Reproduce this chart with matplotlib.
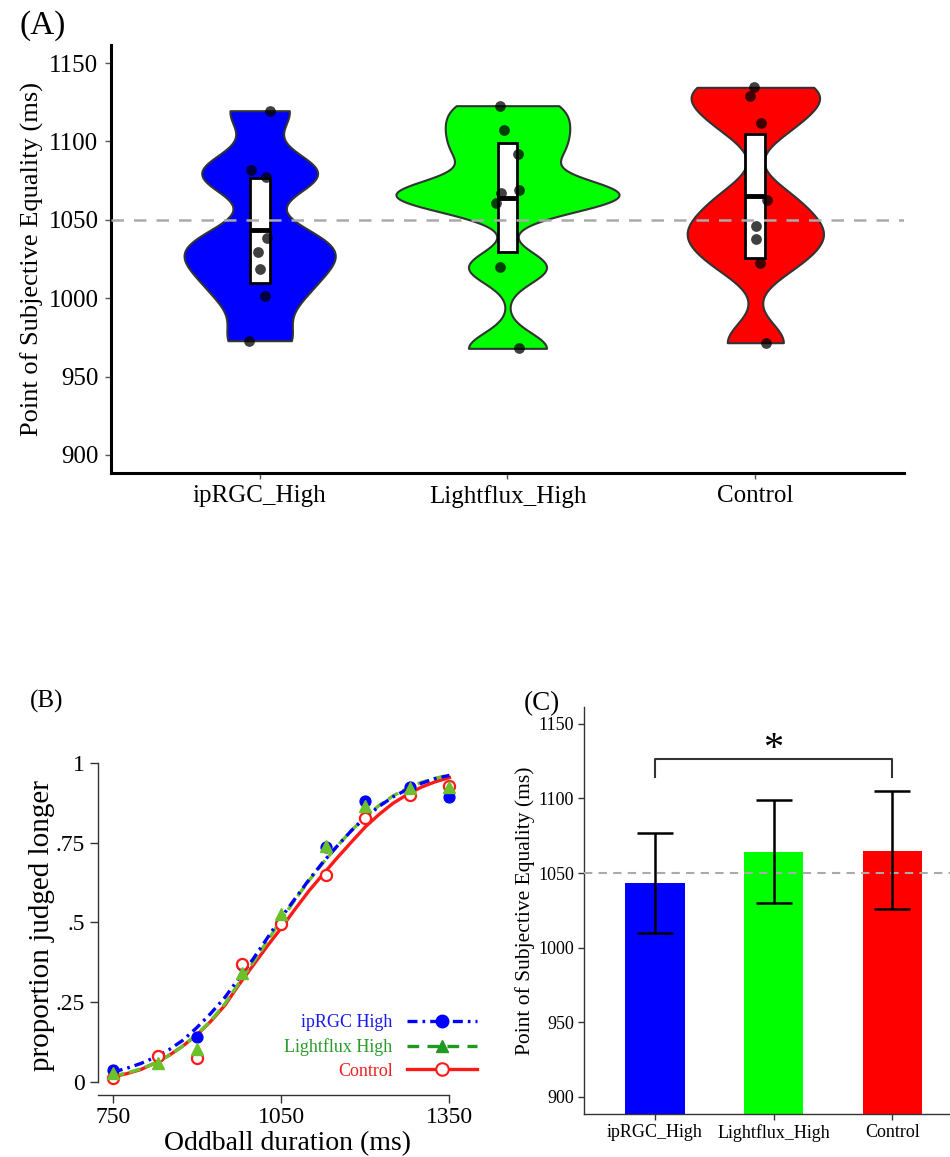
import numpy as np
import matplotlib
matplotlib.use('Agg')
import matplotlib.pyplot as plt
from matplotlib.lines import Line2D

plt.rcParams['font.family'] = ['Liberation Serif', 'DejaVu Serif']

# ---- data ----
groups = ['ipRGC_High', 'Lightflux_High', 'Control']
colors = ['#0000ff', '#00ff00', '#ff0000']

# individual PSE values (panel A points)
pse_ipRGC = [1119.6, 1081.6, 1077.5, 1038.4, 1029.7, 1018.4, 1001.4, 972.9]
pse_light = [1122.8, 1107.5, 1091.8, 1068.8, 1066.9, 1060.7, 1019.7, 968.0]
pse_control = [1134.5, 1128.7, 1111.5, 1062.9, 1046.0, 1037.6, 1022.3, 971.6]
# horizontal jitter of the points (category units)
jit_ipRGC = [0.040, -0.033, 0.027, 0.031, -0.005, 0.001, 0.021, -0.041]
jit_light = [-0.029, -0.016, 0.044, 0.047, -0.025, -0.045, -0.029, 0.048]
jit_control = [-0.004, -0.021, 0.023, 0.047, 0.004, 0.001, 0.017, 0.045]

# group mean and interval (box in A, bars in C)
pse_mean = [1043.3, 1063.9, 1065.0]
pse_lo = [1009.9, 1029.6, 1025.8]
pse_hi = [1076.5, 1098.7, 1105.0]

# panel B: observed proportions
dur_levels = [750, 830, 900, 980, 1050, 1130, 1200, 1280, 1350]
p_ipRGC = [0.035, 0.079, 0.141, 0.366, 0.497, 0.738, 0.883, 0.924, 0.893]
p_light = [0.026, 0.058, 0.103, 0.340, 0.526, 0.741, 0.866, 0.921, 0.925]
p_control = [0.010, 0.079, 0.073, 0.370, 0.494, 0.649, 0.827, 0.900, 0.929]

# panel B: fitted psychometric curves
fit_x = [750, 775, 800, 825, 850, 875, 900, 925, 950, 975, 1000, 1025, 1050,
         1075, 1100, 1125, 1150, 1175, 1200, 1225, 1250, 1275, 1300, 1325, 1350]
fit_ipRGC = [0.030, 0.042, 0.057, 0.076, 0.100, 0.130, 0.170, 0.215, 0.265, 0.325,
             0.385, 0.450, 0.515, 0.575, 0.635, 0.690, 0.740, 0.788, 0.830, 0.865,
             0.895, 0.918, 0.937, 0.952, 0.962]
fit_light = [0.018, 0.027, 0.040, 0.058, 0.082, 0.112, 0.148, 0.192, 0.245, 0.310,
             0.375, 0.440, 0.508, 0.572, 0.632, 0.688, 0.740, 0.788, 0.832, 0.868,
             0.898, 0.921, 0.940, 0.953, 0.963]
fit_control = [0.015, 0.025, 0.038, 0.058, 0.082, 0.112, 0.147, 0.190, 0.240, 0.305,
               0.365, 0.425, 0.482, 0.542, 0.600, 0.652, 0.703, 0.752, 0.800, 0.840,
               0.875, 0.902, 0.925, 0.942, 0.955]

fig = plt.figure(figsize=(9.5, 11.57), dpi=100)
pos = [1, 2, 3]

# ================= (A) violins =================
axA = fig.add_axes([0.1168, 0.5912, 0.8348, 0.3699])
# one call per group so each gets its own kernel width
for vals, p, w, bw, c in zip([pse_ipRGC, pse_light, pse_control], pos,
                             [0.61, 0.90, 0.55], [0.27, 0.20, 0.22], colors):
    vp = axA.violinplot([vals], positions=[p], widths=[w], showextrema=False,
                        bw_method=bw, points=400)
    body = vp['bodies'][0]
    body.set_facecolor(c)
    body.set_edgecolor('#333333')
    body.set_linewidth(1.5)
    body.set_alpha(1)
    body.set_zorder(2)

axA.bar(pos, np.subtract(pse_hi, pse_lo), bottom=pse_lo, width=0.08,
        color='white', edgecolor='black', linewidth=2, zorder=3)
axA.hlines(pse_mean, np.subtract(pos, 0.04), np.add(pos, 0.04),
           color='black', lw=3.5, zorder=4)
axA.axhline(1050, color='#aaaaaa', lw=1.8, ls=(0, (5, 4)), zorder=4.5)

for i, (vals, jit) in enumerate([(pse_ipRGC, jit_ipRGC), (pse_light, jit_light),
                                 (pse_control, jit_control)]):
    axA.scatter(np.add(pos[i], jit), vals, s=60, color='black', alpha=0.75,
                linewidths=0, zorder=5)

axA.set_xlim(0.4, 3.6)
axA.set_ylim(888.5, 1161.5)
axA.set_yticks([900, 950, 1000, 1050, 1100, 1150])
axA.set_xticks(pos)
axA.set_xticklabels(groups)
axA.tick_params(labelsize=18, length=4, width=1, color='#555555', pad=5)
axA.set_ylabel('Point of Subjective Equality (ms)', fontsize=19, labelpad=3)
for s in ['top', 'right']:
    axA.spines[s].set_visible(False)
for s in ['left', 'bottom']:
    axA.spines[s].set_linewidth(2.2)
    axA.spines[s].set_color('black')

# ================= (B) psychometric curves =================
axB = fig.add_axes([0.1028, 0.0536, 0.3998, 0.2922])
blue_c = '#0000ff'
green_c = '#6cc12a'
red_c = '#ff1a1a'

axB.plot(fit_x, fit_control, color=red_c, lw=2.4, zorder=3)
axB.plot(fit_x, fit_light, color=green_c, lw=2.4, ls=(0, (3.5, 1.5)), zorder=3)
axB.plot(fit_x, fit_ipRGC, color=blue_c, lw=2.4, ls=(0, (3, 1.5, 0.8, 1.5)), zorder=3)
axB.plot(dur_levels, p_ipRGC, 'o', color=blue_c, ms=7.8, zorder=4)
axB.plot(dur_levels, p_control, 'o', mfc='white', mec=red_c, mew=1.6, ms=8, zorder=4)
axB.plot(dur_levels, p_light, '^', color=green_c, ms=9, zorder=5)

handles = [
    Line2D([], [], color=blue_c, lw=2.4, ls=(0, (3, 1.5, 0.8, 1.5)), marker='o', ms=9),
    Line2D([], [], color='#1e9a1e', lw=2.4, ls=(0, (3.5, 2.5)), marker='^', ms=9),
    Line2D([], [], color=red_c, lw=2.4, marker='o', mfc='white', mec=red_c, mew=1.5, ms=9),
]
axB.legend(handles, ['ipRGC High', 'Lightflux High', 'Control'],
           loc='lower right', bbox_to_anchor=(1.0, 0.045), frameon=False,
           markerfirst=False, fontsize=13, handlelength=3.9, handletextpad=0.8,
           labelspacing=0.38, borderpad=0, borderaxespad=0,
           labelcolor=['#1a1aee', '#2a9a2a', '#ee2020'])

axB.set_xlim(723, 1400)
axB.set_ylim(-0.042, 1.02)
axB.set_xticks([750, 1050, 1350])
axB.set_yticks([0, 0.25, 0.5, 0.75, 1])
axB.set_yticklabels(['0', '.25', '.5', '.75', '1'])
axB.tick_params(labelsize=17, length=6, width=1, color='#333333', pad=3)
axB.spines['left'].set_bounds(0, 1)
axB.spines['bottom'].set_bounds(723, 1350)
for s in ['top', 'right']:
    axB.spines[s].set_visible(False)
for s in ['left', 'bottom']:
    axB.spines[s].set_linewidth(1)
    axB.spines[s].set_color('#333333')
axB.set_xlabel('Oddball duration (ms)', fontsize=20, labelpad=2)
axB.set_ylabel('proportion judged longer', fontsize=21, labelpad=1)

# ================= (C) bars =================
axC = fig.add_axes([0.6144, 0.0372, 0.3998, 0.352])
axC.bar(pos, pse_mean, width=0.5, color=colors, zorder=2)
axC.errorbar(pos, pse_mean,
             yerr=[np.subtract(pse_mean, pse_lo), np.subtract(pse_hi, pse_mean)],
             fmt='none', ecolor='black', elinewidth=1.8, capsize=12.8,
             capthick=1.8, zorder=4)
axC.axhline(1050, color='#aaaaaa', lw=1.5, ls=(0, (4, 3)), zorder=3)
axC.plot([1, 1, 3, 3], [1114.6, 1126.5, 1126.5, 1114.6], color='#333333', lw=1.5)
axC.text(2, 1132.5, '*', fontsize=29, ha='center', va='center')

axC.set_xlim(0.4, 3.6)
axC.set_ylim(888.5, 1161.5)
axC.set_yticks([900, 950, 1000, 1050, 1100, 1150])
axC.set_xticks(pos)
axC.set_xticklabels(groups)
axC.tick_params(labelsize=13, length=4, width=1, color='#333333', pad=3)
axC.set_ylabel('Point of Subjective Equality (ms)', fontsize=15.5, labelpad=2)
for s in ['top', 'right']:
    axC.spines[s].set_visible(False)
for s in ['left', 'bottom']:
    axC.spines[s].set_linewidth(1)
    axC.spines[s].set_color('#333333')

# panel labels
fig.text(0.021, 0.978, '(A)', fontsize=24, va='center', ha='left')
fig.text(0.031, 0.3935, '(B)', fontsize=18, va='center', ha='left')
fig.text(0.551, 0.392, '(C)', fontsize=19.5, va='center', ha='left')

fig.savefig('out.png', dpi=100)
